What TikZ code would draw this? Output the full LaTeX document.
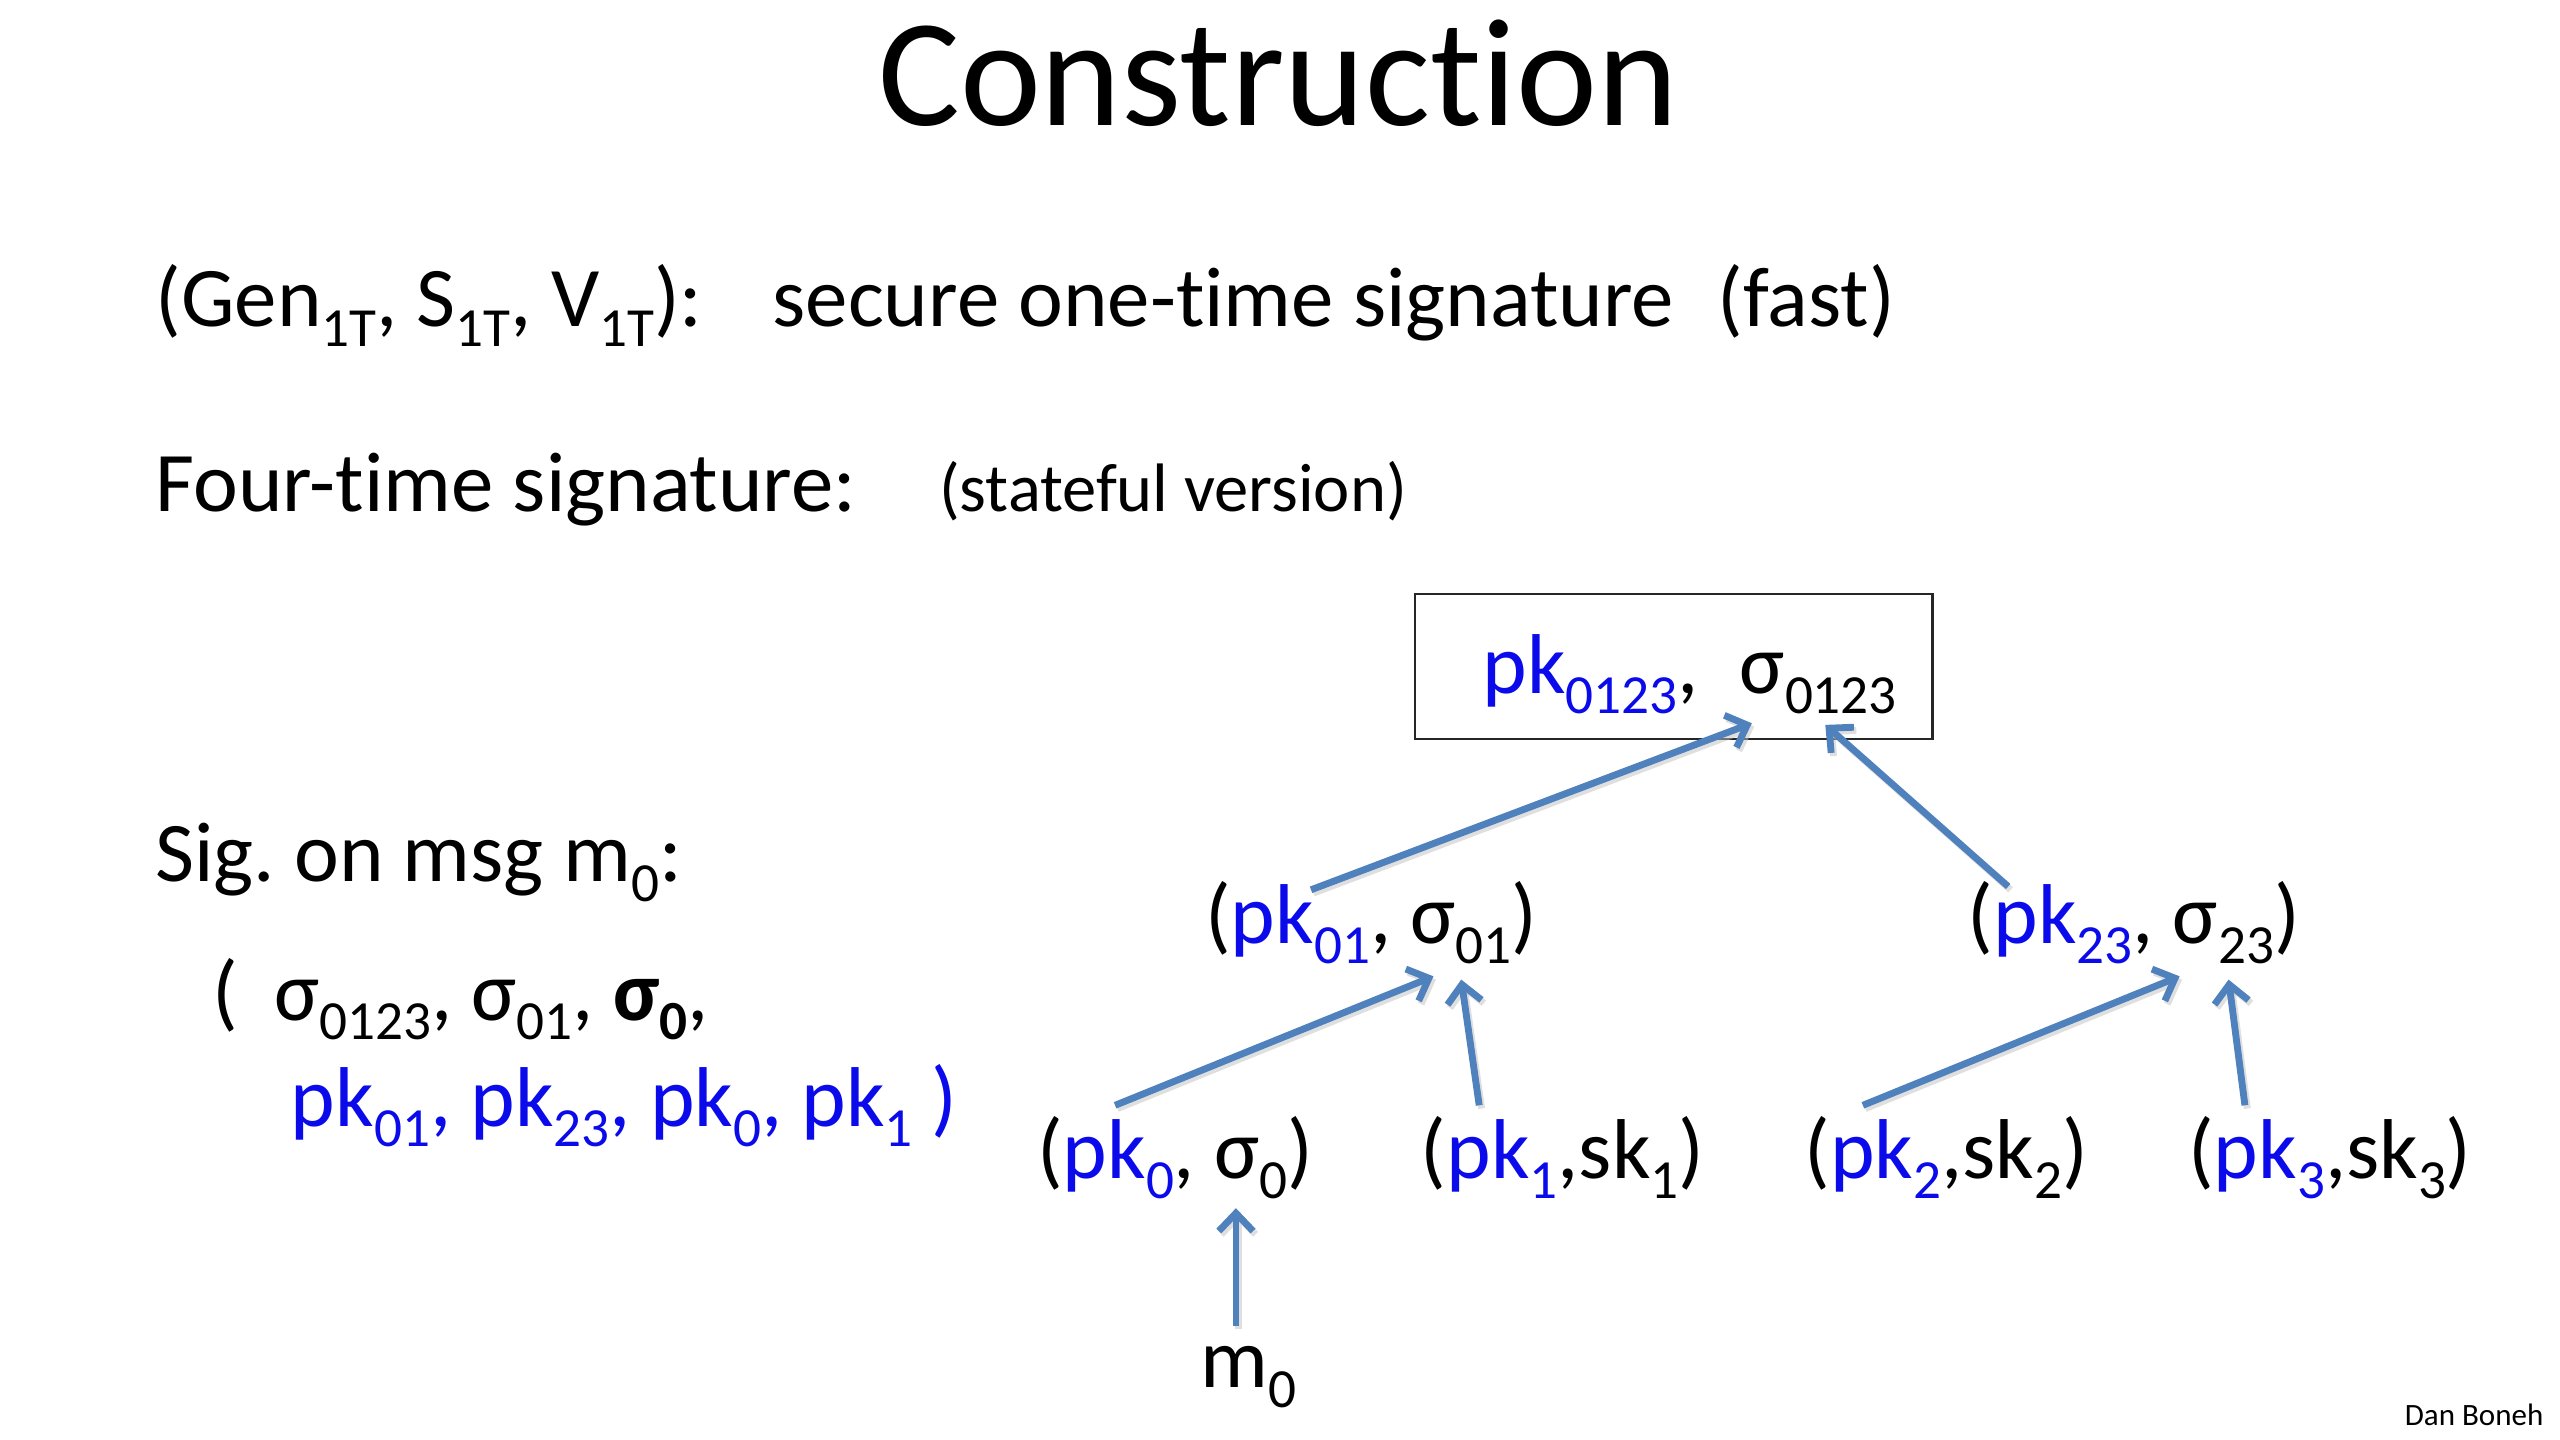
\documentclass[tikz,border=0pt]{standalone}
\usepackage{fontspec}
\setmainfont{Carlito}[Ligatures=NoCommon]
\usetikzlibrary{arrows.meta}
\definecolor{pkblue}{RGB}{10,10,235}
\definecolor{arrowblue}{RGB}{79,129,189}
\newcommand\sbs[1]{\raisebox{-0.23em}{\scalebox{0.65}{#1}}}
\newcommand\pk[1]{\textcolor{pkblue}{#1}}
\frenchspacing
\tikzset{
  txt/.style={inner sep=0pt, anchor=base west, font=\fontsize{52}{60}\selectfont},
  tnode/.style={txt},
  arr/.style={draw=arrowblue, line width=4.2pt, -{Straight Barb[length=11pt,width=21pt]}},
  shadowarr/.style={draw=black!25, opacity=0.5, line width=4.2pt, -{Straight Barb[length=11pt,width=21pt]}},
}
\begin{document}
\begin{tikzpicture}[x=1pt,y=-1pt]
\useasboundingbox (0,0) rectangle (1568,882);
% title
\node[inner sep=0pt, anchor=base, font=\fontsize{94}{110}\selectfont] (title) at (783,77) {Construction};
% line 1
\node[txt] (gen) at (95,200) {(Gen\sbs{1T}, S\sbs{1T}, V\sbs{1T}):};
\node[txt] (sec) at (473,200) {secure one-time signature};
\node[txt] (fast) at (1052,200) {(fast)};
% line 2
\node[txt] (four) at (95,313) {Four-time signature:};
\node[txt, font=\fontsize{42}{50}\selectfont] (stateful) at (575,313) {(stateful version)};
% root box
\node[draw=black!85, line width=1.5pt, minimum width=317pt, minimum height=89pt, anchor=north west, inner sep=0pt] (top) at (866,363) {};
\node[txt] (toptxt) at (908,425) {\pk{pk\sbs{0123}},\hspace{25pt}σ\sbs{0123}};
% signature
\node[txt] (sig) at (95,540) {Sig. on msg m\sbs{0}:};
\node[txt] (sigl1) at (130,625) {(\hspace{22pt}σ\sbs{0123}, σ\sbs{01}, \textbf{σ\sbs{0}},};
\node[txt, text=pkblue] (sigl2) at (178,690) {pk\sbs{01}, pk\sbs{23}, pk\sbs{0}, pk\sbs{1} )};
% tree nodes
\node[tnode] (n01) at (738,578) {(\pk{pk\sbs{01}}, σ\sbs{01})};
\node[tnode] (n23) at (1205,578) {(\pk{pk\sbs{23}}, σ\sbs{23})};
\node[tnode] (n0) at (635,722) {(\pk{pk\sbs{0}}, σ\sbs{0})};
\node[tnode] (n1) at (870,722) {(\pk{pk\sbs{1}},sk\sbs{1})};
\node[tnode] (n2) at (1105,722) {(\pk{pk\sbs{2}},sk\sbs{2})};
\node[tnode] (n3) at (1340,722) {(\pk{pk\sbs{3}},sk\sbs{3})};
\node[tnode] (m0) at (735,850) {m\sbs{0}};
% footer
\node[inner sep=0pt, anchor=base east, font=\fontsize{19}{22}\selectfont] (author) at (1558,873) {Dan Boneh};
% connector end points
\coordinate (a1s) at (803,545); \coordinate (a1e) at (1073,443);
\coordinate (a2s) at (1230,543); \coordinate (a2e) at (1118,444);
\coordinate (a3s) at (683,677); \coordinate (a3e) at (878,598);
\coordinate (a4s) at (906,677); \coordinate (a4e) at (895,600);
\coordinate (a5s) at (1141,677); \coordinate (a5e) at (1335,598);
\coordinate (a6s) at (1375,677); \coordinate (a6e) at (1365,600);
\coordinate (a7s) at (757,812); \coordinate (a7e) at (757,740);
\foreach \a in {1,...,7}{
  \draw[shadowarr] ([shift={(1.5,2)}]a\a s) -- ([shift={(1.5,2)}]a\a e);
}
\foreach \a in {1,...,7}{
  \draw[arr] (a\a s) -- (a\a e);
}
\end{tikzpicture}
\end{document}
